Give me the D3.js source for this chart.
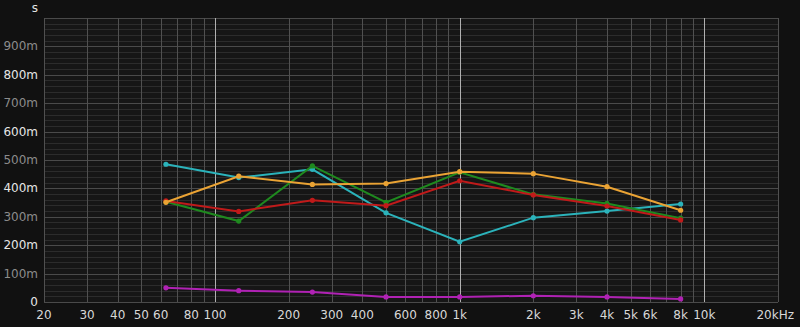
<!DOCTYPE html>
<html>
<head>
<meta charset="utf-8">
<script src="https://cdn.jsdelivr.net/npm/d3@7"></script>
<style>
  html, body { margin: 0; padding: 0; background: #111111; }
  svg { display: block; }
  text { font-family: "DejaVu Sans", sans-serif; }
</style>
</head>
<body>
<svg id="chart" width="800" height="327"></svg>
<script>
// octave band centres (Hz)
const freqs = [63, 125, 250, 500, 1000, 2000, 4000, 8000];

// decay times in ms
const cyanVals    = [485, 438, 467, 314, 212, 297, 320, 345];
const orangeVals  = [351, 443, 414, 417, 459, 452, 406, 323];
const greenVals   = [353, 285, 479, 351, 457, 379, 347, 295];
const redVals     = [356, 319, 358, 339, 427, 377, 338, 289];
const magentaVals = [50, 40, 35, 18, 18, 22, 18, 11];

const seriesList = [
  { name: "cyan", color: "#2bb3bb", values: cyanVals },
  { name: "green", color: "#1f8a1f", values: greenVals },
  { name: "red", color: "#c01a1a", values: redVals },
  { name: "orange", color: "#eaa334", values: orangeVals },
  { name: "magenta", color: "#b022b4", values: magentaVals }
];

const xTicks = [20, 30, 40, 50, 60, 80, 100, 200, 300, 400, 600, 800, 1000, 2000, 3000, 4000, 5000, 6000, 8000, 10000, 20000];
const xTickLabels = ["20", "30", "40", "50", "60", "80", "100", "200", "300", "400", "600", "800", "1k", "2k", "3k", "4k", "5k", "6k", "8k", "10k", "20kHz"];
const yTicks = [0, 100, 200, 300, 400, 500, 600, 700, 800, 900];
const yTickLabels = ["0", "100m", "200m", "300m", "400m", "500m", "600m", "700m", "800m", "900m"];

const svg = d3.select("#chart");
const plotL = 44, plotR = 778, plotT = 18, plotB = 302;

const xScale = d3.scaleLog().domain([20, 20000]).range([plotL, plotR]);
const yScale = d3.scaleLinear().domain([0, 1000]).range([plotB, plotT]);

// plot background
svg.append("rect")
  .attr("x", plotL).attr("y", plotT)
  .attr("width", plotR - plotL).attr("height", plotB - plotT)
  .attr("fill", "#161616");

const grid = svg.append("g").attr("shape-rendering", "crispEdges");

// minor horizontal lines every 20m
d3.range(20, 1000, 20).filter(v => v % 100 !== 0).forEach(v => {
  grid.append("line")
    .attr("x1", plotL).attr("x2", plotR)
    .attr("y1", Math.round(yScale(v)) + 0.5).attr("y2", Math.round(yScale(v)) + 0.5)
    .attr("stroke", "#2c2c2c");
});
// major horizontal lines
d3.range(0, 1001, 100).forEach(v => {
  grid.append("line")
    .attr("x1", plotL).attr("x2", plotR)
    .attr("y1", Math.round(yScale(v)) + 0.5).attr("y2", Math.round(yScale(v)) + 0.5)
    .attr("stroke", "#4a4a4a");
});

// vertical lines for every 1-2-..-9 step
const vLines = [];
[10, 100, 1000, 10000].forEach(dec => {
  for (let m = 1; m < 10; m++) {
    const f = dec * m;
    if (f >= 20 && f <= 20000) vLines.push(f);
  }
});
vLines.push(20000);
vLines.forEach(f => {
  const decade = [100, 1000, 10000].includes(f);
  grid.append("line")
    .attr("x1", Math.round(xScale(f)) + 0.5).attr("x2", Math.round(xScale(f)) + 0.5)
    .attr("y1", plotT).attr("y2", plotB)
    .attr("stroke", decade ? "#b0b0b0" : "#505050");
});

// axis labels
svg.append("g").selectAll("text")
  .data(yTicks)
  .join("text")
  .attr("x", 38)
  .attr("y", d => yScale(d) + 4)
  .attr("text-anchor", "end")
  .attr("font-size", 12)
  .attr("fill", d => (d % 200 === 0) ? "#e6e6e6" : "#8c8c8c")
  .text((d, i) => yTickLabels[i]);

svg.append("g").selectAll("text")
  .data(xTicks)
  .join("text")
  .attr("x", d => xScale(d))
  .attr("y", 319)
  .attr("text-anchor", d => d === 20000 ? "end" : "middle")
  .attr("dx", d => d === 20000 ? 16 : 0)
  .attr("font-size", 12)
  .attr("fill", "#d8d8d8")
  .text((d, i) => xTickLabels[i]);

svg.append("text")
  .attr("x", 35).attr("y", 12)
  .attr("text-anchor", "middle")
  .attr("font-size", 12)
  .attr("fill", "#e6e6e6")
  .text("s");

// series
const line = d3.line()
  .x((d, i) => xScale(freqs[i]))
  .y(d => yScale(d));

seriesList.forEach(s => {
  const g = svg.append("g");
  g.append("path")
    .datum(s.values)
    .attr("d", line)
    .attr("fill", "none")
    .attr("stroke", s.color)
    .attr("stroke-width", 2);
  g.selectAll("circle")
    .data(s.values)
    .join("circle")
    .attr("cx", (d, i) => xScale(freqs[i]))
    .attr("cy", d => yScale(d))
    .attr("r", 2.6)
    .attr("fill", s.color);
});
</script>
</body>
</html>
